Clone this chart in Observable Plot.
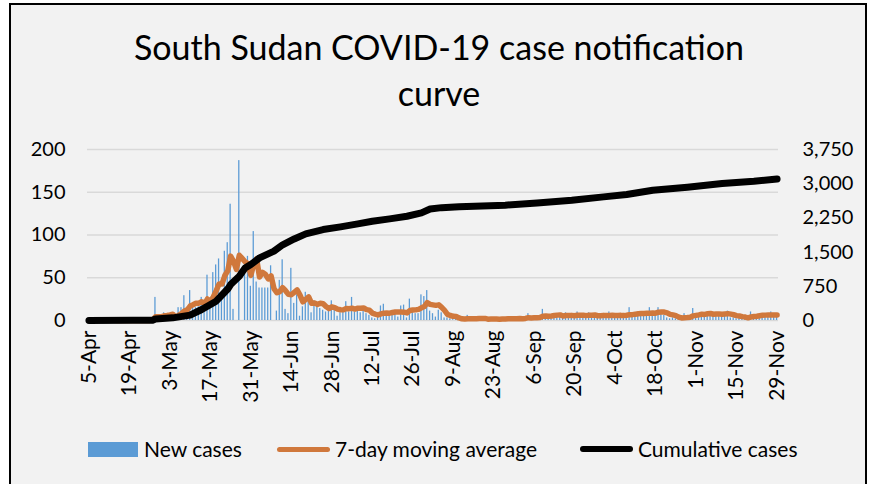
<!DOCTYPE html>
<html>
<head>
<meta charset="utf-8">
<script src="https://cdn.jsdelivr.net/npm/d3@7"></script>
<script src="https://cdn.jsdelivr.net/npm/@observablehq/plot@0.6"></script>
<style>
  body { margin:0; background:#fff; }
  #frame { position:relative; width:878px; height:484px; overflow:hidden; font-family: Lato, "Open Sans", sans-serif; color:#000; }
  #box { position:absolute; left:9px; top:3px; width:858px; height:520px; background:#f2f2f2; border:2px solid #000; box-sizing:border-box; }
  #title { position:absolute; left:0; width:878px; top:24px; text-align:center; font-size:34px; line-height:46px; color:#000; }
  #chart { position:absolute; left:0; top:0; }
  .lg { position:absolute; font-size:21px; line-height:24px; top:437px; white-space:nowrap; }
  .sw { position:absolute; }
</style>
</head>
<body>
<div id="frame">
  <div id="box"></div>
  <div id="title">South Sudan COVID-19 case notification<br>curve</div>
  <div id="chart"></div>
  <div class="sw" style="left:88px;top:442px;width:50px;height:15px;background:#5b9bd5"></div>
  <div class="lg" style="left:144px">New cases</div>
  <div class="sw" style="left:277px;top:447px;width:53px;height:5px;border-radius:3px;background:#d0783c"></div>
  <div class="lg" style="left:335px">7-day moving average</div>
  <div class="sw" style="left:580px;top:446px;width:53px;height:6px;border-radius:3px;background:#000"></div>
  <div class="lg" style="left:638px">Cumulative cases</div>
</div>
<script>
// Day index 0 = 5-Apr-2020
const newCases = [
  1,0,1,1,0,1,0,
  0,0,0,0,0,0,0,
  0,0,0,0,1,0,0,
  0,3,27,0,0,9,3,
  4,8,3,15,15,29,13,
  35,19,15,16,27,11,53,
  15,56,65,72,26,81,91,
  136,13,0,187,0,54,75,
  40,104,45,38,38,38,38,
  64,0,11,47,71,13,8,
  61,20,30,5,16,33,28,
  9,23,18,14,12,10,12,
  23,17,5,9,11,22,10,
  27,10,12,9,13,8,6,
  3,2,5,17,19,9,5,
  8,7,4,17,18,3,25,
  12,8,8,30,28,35,11,
  8,4,12,9,3,3,2,
  1,3,0,2,1,6,2,
  1,2,3,1,2,0,3,
  2,1,2,3,1,2,4,
  1,2,3,2,3,8,2,
  3,2,4,13,5,6,4,
  7,5,6,4,9,5,6,
  4,10,5,4,6,9,5,
  6,4,5,7,4,10,6,
  5,4,6,5,7,15,6,
  9,7,8,6,9,15,7,
  8,15,9,6,3,2,3,
  2,3,2,8,4,5,14,
  6,7,8,6,9,7,8,
  9,6,7,8,11,3,3,
  2,3,2,4,5,10,6,
  5,7,6,5,7,10,6,
  5
];
const cumDays   = [0, 15, 22, 23, 29, 35, 39, 44, 48, 49, 52, 54, 56, 59, 64, 67, 71, 75, 81, 87, 93, 98, 104, 110, 115, 118, 122, 128, 144, 155, 167, 178, 186, 195, 207, 219, 230, 238];
const cumValues = [1, 4, 5, 32, 58, 117, 241, 424, 690, 789, 971, 1150, 1228, 1373, 1520, 1660, 1789, 1900, 1995, 2053, 2119, 2177, 2228, 2287, 2359, 2445, 2475, 2495, 2529, 2579, 2638, 2711, 2763, 2857, 2923, 3004, 3055, 3105];
const xTickDays   = [0, 14, 28, 42, 56, 70, 84, 98, 112, 126, 140, 154, 168, 182, 196, 210, 224, 238];
const xTickLabels = ["5-Apr","19-Apr","3-May","17-May","31-May","14-Jun","28-Jun","12-Jul","26-Jul","9-Aug","23-Aug","6-Sep","20-Sep","4-Oct","18-Oct","1-Nov","15-Nov","29-Nov"];
const leftTicks = [0, 50, 100, 150, 200];
const leftTickLabels = ["0","50","100","150","200"];
const rightTicks = [0, 750, 1500, 2250, 3000, 3750];
const rightTickLabels = ["0","750","1,500","2,250","3,000","3,750"];
const rightMax = 3750, leftMax = 200;

const daily = newCases.map((v, i) => ({d: i, v}));
const cum = cumDays.map((d, i) => ({d, c: cumValues[i]}));
const ratio = rightMax / leftMax;
const rightPos = rightTicks.map(t => t / ratio);

const chart = Plot.plot({
  width: 878, height: 484,
  marginLeft: 87, marginRight: 100, marginTop: 149, marginBottom: 164,
  x: {type: "linear", domain: [-0.5, newCases.length - 0.5], axis: null},
  y: {domain: [0, leftMax], axis: null},
  style: {background: "transparent", fontFamily: "Lato, 'Open Sans', sans-serif", color: "#000", overflow: "visible"},
  marks: [
    Plot.gridY(leftTicks, {stroke: "#d9d9d9", strokeOpacity: 1, strokeWidth: 1.6}),
    Plot.axisY({anchor: "left", ticks: leftTicks, tickSize: 0, tickPadding: 22, fontSize: 20, label: null,
      tickFormat: d => leftTickLabels[leftTicks.indexOf(d)]}),
    Plot.axisY({anchor: "right", ticks: rightPos, tickSize: 0, tickPadding: 24, fontSize: 20, label: null,
      tickFormat: d => rightTickLabels[rightPos.indexOf(d)]}),
    Plot.axisX({ticks: xTickDays, tickSize: 0, tickPadding: 10, tickRotate: -90, fontSize: 21, label: null,
      tickFormat: d => xTickLabels[xTickDays.indexOf(d)]}),
    Plot.rectY(daily, {x1: d => d.d - 0.22, x2: d => d.d + 0.22, y: "v", fill: "#5b9bd5"}),
    Plot.lineY(daily, Plot.windowY({k: 7, anchor: "end", strict: true}, {x: "d", y: "v", stroke: "#d0783c", strokeWidth: 5.5, strokeLinejoin: "round", strokeLinecap: "round"})),
    Plot.line(cum, {x: "d", y: d => d.c / ratio, stroke: "#000", strokeWidth: 7, strokeLinejoin: "round", strokeLinecap: "round"})
  ]
});
document.getElementById("chart").appendChild(chart);
</script>
</body>
</html>
